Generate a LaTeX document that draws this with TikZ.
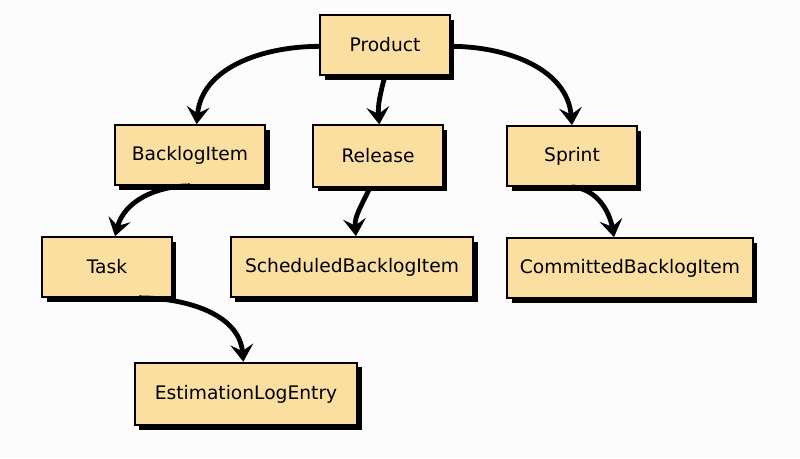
\documentclass[tikz,border=0pt]{standalone}
\usepackage{fontspec}
\setmainfont{DejaVu Sans}
\usetikzlibrary{arrows.meta,shadows}
\definecolor{boxfill}{RGB}{250,223,160}
\definecolor{bgcol}{RGB}{252,252,252}
\tikzset{
  cls/.style={draw=black, line width=1.3pt, fill=boxfill, minimum height=45pt,
    inner sep=0pt, font=\fontsize{14}{16}\selectfont,
    drop shadow={shadow xshift=3.6pt, shadow yshift=-3.6pt, fill=black, opacity=1}},
  rel/.style={line width=3.6pt, -{Stealth[length=13pt,width=17pt,inset=5pt]}}
}
\begin{document}
\begin{tikzpicture}[x=0.75pt,y=-0.75pt]
\fill[bgcol] (0,0) rectangle (800,458);
\useasboundingbox (0,0) rectangle (800,458);
\node[cls, minimum width=97pt] (product) at (385,45) {Product};
\node[cls, minimum width=113pt] (backlog) at (190,155) {BacklogItem};
\node[cls, minimum width=97pt, minimum height=46pt] (release) at (378,156) {Release};
\node[cls, minimum width=97pt] (sprint) at (572,156) {Sprint};
\node[cls, minimum width=97pt] (task) at (107,267) {Task};
\node[cls, minimum width=182pt] (sched) at (352,267) {ScheduledBacklogItem};
\node[cls, minimum width=184pt] (commit) at (630,268) {CommittedBacklogItem};
\node[cls, minimum width=167pt, minimum height=47pt] (est) at (246,394) {EstimationLogEntry};

\draw[rel] ([yshift=-1pt]product.west) to[out=180,in=85] ([xshift=5pt]backlog.north);
\draw[rel] (product.south) to[out=-105,in=95] ([xshift=1pt]release.north);
\draw[rel] ([yshift=-1pt]product.east) to[out=0,in=95] (sprint.north);
\draw[rel] (backlog.south) to[out=180,in=75] ([xshift=6pt]task.north);
\draw[rel] ([xshift=-6pt]release.south) to[out=-115,in=95] ([xshift=3pt]sched.north);
\draw[rel] (sprint.south) to[out=-5,in=100] ([xshift=-12pt]commit.north);
\draw[rel] ([xshift=24pt]task.south) to[out=0,in=95] ([xshift=-2pt]est.north);
\end{tikzpicture}
\end{document}
